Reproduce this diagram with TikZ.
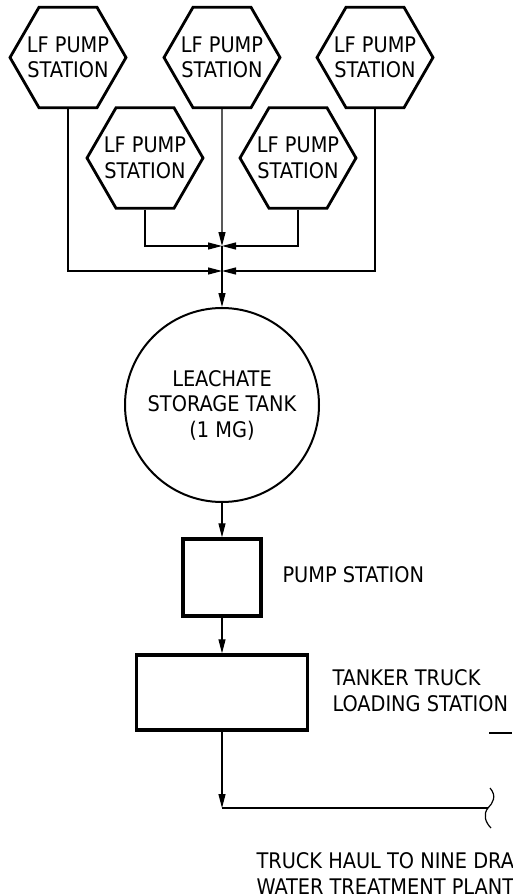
\documentclass[tikz,border=0pt]{standalone}
\usepackage{fontspec}
\setmainfont{DejaVu Sans Condensed}
\usetikzlibrary{shapes.geometric,arrows.meta}

\begin{document}
\begin{tikzpicture}[x=1pt,y=-1pt,
  every node/.style={font=\fontsize{21.5}{25.5}\selectfont},
  hexa/.style={draw,line width=2.8pt,regular polygon,regular polygon sides=6,minimum size=116pt,inner sep=-12pt,align=center},
  tank/.style={draw,line width=2pt,circle,minimum size=194pt,inner sep=0pt,align=center},
  unit/.style={draw,line width=3.4pt,rectangle,inner sep=0pt},
  flow/.style={line width=1.2pt,-{Triangle[length=14pt,width=7pt]}},
  pipe/.style={line width=1.2pt}]
\useasboundingbox (0,0) rectangle (512,894);
\node[hexa] (h1) at (68,57.5) {LF PUMP\\STATION};
\node[hexa] (h2) at (222,57.5) {LF PUMP\\STATION};
\node[hexa] (h3) at (375,57.5) {LF PUMP\\STATION};
\node[hexa] (h4) at (145,158) {LF PUMP\\STATION};
\node[hexa] (h5) at (298,158) {LF PUMP\\STATION};
\coordinate (j1) at (222,246);
\coordinate (j2) at (222,271);
\node[tank] (tk) at (222,405) {LEACHATE\\STORAGE TANK\\(1 MG)};
\node[unit,minimum width=78pt,minimum height=77pt] (ps) at (222,577.5) {};
\node[unit,minimum width=171pt,minimum height=75pt] (ts) at (222,692.5) {};
\node[anchor=west] (psl) at (279,575) {PUMP STATION};
\node[anchor=west,align=left] (tsl) at (329,690.5) {TANKER TRUCK\\LOADING STATION};
\node[anchor=west,align=left] (hl) at (253,873.5) {TRUCK HAUL TO NINE DRA\\WATER TREATMENT PLANT};
\coordinate (haul) at (222,808);
\coordinate (brk) at (488,808);
\draw[flow] (h2.south) -- (j1);
\draw[flow] (h4.south) |- (j1);
\draw[flow] (h5.south) |- (j1);
\draw[pipe] (j1) -- (j2);
\draw[flow] (h1.south) |- (j2);
\draw[flow] (h3.south) |- (j2);
\draw[flow] (j2) -- (tk.north);
\draw[flow] (tk.south) -- (ps.north);
\draw[flow] (ps.south) -- (ts.north);
\draw[flow] (ts.south) -- (haul);
\draw[pipe] (haul) -- (brk);
\draw[pipe] (490,788) .. controls (497,796) and (493,803) .. (brk) .. controls (483,814) and (485,822) .. (491,828);
\draw[pipe] (489,733) -- (512,733);
\end{tikzpicture}
\end{document}
